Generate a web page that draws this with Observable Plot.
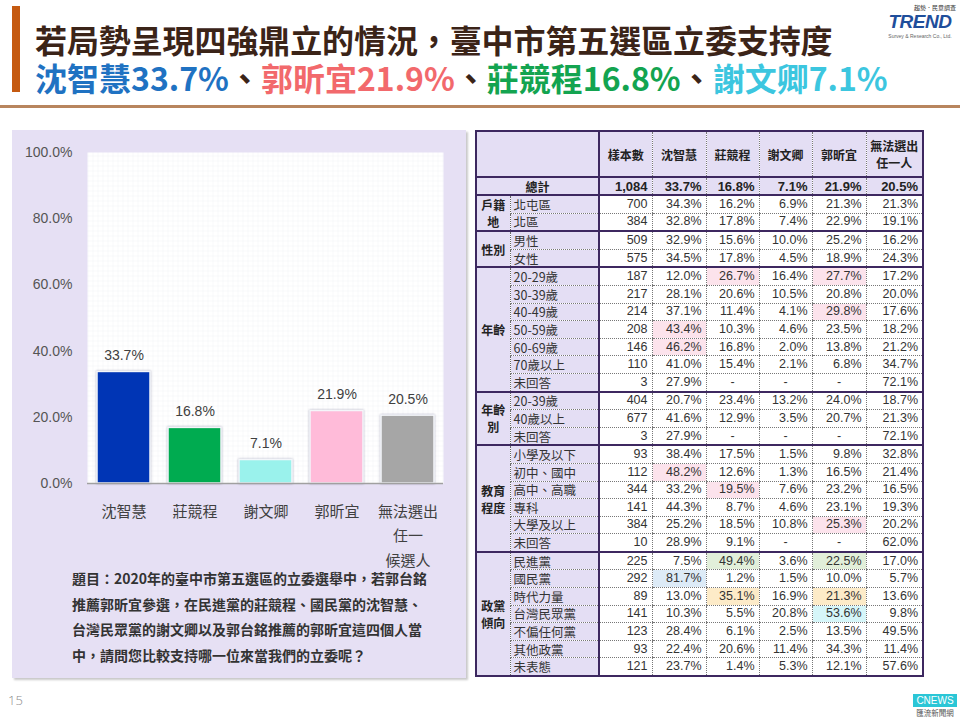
<!DOCTYPE html>
<html>
<head>
<meta charset="utf-8">
<script src="https://cdn.jsdelivr.net/npm/d3@7"></script>
<script src="https://cdn.jsdelivr.net/npm/@observablehq/plot@0.6"></script>
<style>
  html,body{margin:0;padding:0;}
  body{width:960px;height:720px;position:relative;background:#fff;overflow:hidden;
       font-family:"Noto Sans CJK TC","Noto Sans",sans-serif;}
  .abs{position:absolute;}
  #accent{left:12px;top:6px;width:8px;height:86px;background:#C55A11;}
  #title1{left:35px;top:22px;font-size:32px;font-weight:700;color:#3B2418;white-space:nowrap;line-height:34px;height:34px;letter-spacing:-0.1px;}
  #title2{left:35px;top:60px;font-size:32px;font-weight:700;white-space:nowrap;line-height:34px;height:34px;letter-spacing:0px;}
  #title1 span, #title2 span{display:inline-block;height:34px;line-height:34px;overflow:visible;vertical-align:top;}
  #rule{left:0;top:105px;width:960px;height:3px;background:#B8855E;}
  #logo1{left:912px;top:4px;width:44px;font-size:6px;color:#333;line-height:7px;text-align:right;}
  #logo2{left:884px;top:12px;width:72px;text-align:center;font-family:"Liberation Sans",Arial,sans-serif;font-style:italic;font-weight:700;font-size:19px;color:#1F4E9B;line-height:19px;letter-spacing:-0.5px;}
  #logo3{left:884px;top:33px;width:72px;text-align:center;font-family:"Liberation Sans",Arial,sans-serif;font-size:5px;color:#666;line-height:6px;}
  #panel{left:12px;top:130px;width:454px;height:548px;background:#E6E0F4;box-shadow:2px 2px 2px #c9c9c9;}
  #chart{left:12px;top:130px;}
  #question{left:72px;top:566px;font-size:14px;font-weight:700;color:#333;line-height:25.5px;white-space:nowrap;}
  #pagenum{left:8px;top:691px;font-size:13px;color:#8a8a8a;font-family:"Open Sans",sans-serif;font-weight:300;}
  #cnews{left:913px;top:694px;width:44px;height:13px;background:#2BC6D6;color:#fff;font-family:"Liberation Sans",Arial,sans-serif;font-size:10px;line-height:13px;text-align:center;}
  #cnews2{left:913px;top:708px;width:44px;font-size:7.5px;color:#555;text-align:center;line-height:9px;}
  #tbl{position:absolute;left:475px;top:130px;border-collapse:collapse;table-layout:fixed;width:447px;
       border:2px solid #3D2860;color:#333;}
  #tbl td{padding:0;overflow:hidden;white-space:nowrap;}
  #tbl tr.hdr td{height:44px;background:#E4DEF4;font-weight:700;font-size:12px;text-align:center;line-height:17px;color:#222;
       border-bottom:2px solid #3D2860;}
  #tbl tr.tot td{height:16px;line-height:15px;background:#E4DEF4;font-weight:700;font-size:13px;border-bottom:2px solid #3D2860;
       font-family:"Liberation Sans",Arial,sans-serif;color:#222;}
  #tbl tr.tot td.lab{font-family:"Noto Sans CJK TC",sans-serif;font-size:12px;text-align:center;}
  #tbl tr.body td{height:16.6px;font-size:12.5px;line-height:13px;}
  #tbl td.num{text-align:right;padding-right:4px;font-family:"Liberation Sans",Arial,sans-serif;border-left:1px dotted #777;}
  #tbl td.sample{border-left:2px solid #3D2860;}
  #tbl tr.body td.grp{background:#E4DEF4;font-weight:700;font-size:12px;text-align:center;line-height:17px;color:#222;
       border-bottom:2px solid #3D2860;white-space:normal;}
  #tbl td.sub{background:#E4DEF4;font-size:11.5px;padding-left:3px;border-left:1px dotted #666;}
  #tbl tr.body td.sub, #tbl tr.body td.num{border-bottom:1px dotted #777;}
  #tbl tr.body.last td.sub, #tbl tr.body.last td.num{border-bottom:2px solid #3D2860;}
  #tbl tr.tot td.num{text-align:right;}
</style>
</head>
<body>
<div id="accent" class="abs"></div>
<div id="title1" class="abs"></div>
<div id="title2" class="abs"></div>
<div id="rule" class="abs"></div>
<div id="logo1" class="abs">趨勢．民意調查</div>
<div id="logo2" class="abs">TREND</div>
<div id="logo3" class="abs">Survey &amp; Research Co., Ltd.</div>
<div id="panel" class="abs"></div>
<div id="chart" class="abs"></div>
<div id="question" class="abs"></div>
<div id="pagenum" class="abs">15</div>
<div id="cnews" class="abs">CNEWS</div>
<div id="cnews2" class="abs">匯流新聞網</div>
<table id="tbl"></table>

<script>
// ---------- Titles ----------
const titleLine1 = "若局勢呈現四強鼎立的情況，臺中市第五選區立委支持度";
const headlineNames = ["沈智慧", "郭昕宜", "莊競程", "謝文卿"];
const headlineShares = ["33.7%", "21.9%", "16.8%", "7.1%"];
const headlineColors = ["#1F72C2", "#F2696C", "#13A450", "#3CC6DF"];
const questionLines = [
  "題目：2020年的臺中市第五選區的立委選舉中，若郭台銘",
  "推薦郭昕宜參選，在民進黨的莊競程、國民黨的沈智慧、",
  "台灣民眾黨的謝文卿以及郭台銘推薦的郭昕宜這四個人當",
  "中，請問您比較支持哪一位來當我們的立委呢？"
];

// ---------- Bar chart data ----------
const candidates = ["沈智慧", "莊競程", "謝文卿", "郭昕宜", "無法選出任一候選人"];
const shares = [33.7, 16.8, 7.1, 21.9, 20.5];
const barColors = ["#0035B5", "#00AB50", "#9AF2EC", "#FFBBD9", "#A6A6A6"];
const axisLabels = ["沈智慧", "莊競程", "謝文卿", "郭昕宜", "無法選出\n任一\n候選人"];
const yTicks = [0, 20, 40, 60, 80, 100];

// ---------- Table data ----------
const tableColumns = ["樣本數", "沈智慧", "莊競程", "謝文卿", "郭昕宜", "無法選出\n任一人"];
const totalRow = ["1,084", "33.7%", "16.8%", "7.1%", "21.9%", "20.5%"];
const groupNames = ["戶籍\n地", "性別", "年齡", "年齡\n別", "教育\n程度", "政黨\n傾向"];
const groupRows = [
  ["北屯區", "北區"],
  ["男性", "女性"],
  ["20-29歲", "30-39歲", "40-49歲", "50-59歲", "60-69歲", "70歲以上", "未回答"],
  ["20-39歲", "40歲以上", "未回答"],
  ["小學及以下", "初中、國中", "高中、高職", "專科", "大學及以上", "未回答"],
  ["民進黨", "國民黨", "時代力量", "台灣民眾黨", "不偏任何黨", "其他政黨", "未表態"]
];
const sampleSizes = [
  [700, 384],
  [509, 575],
  [187, 217, 214, 208, 146, 110, 3],
  [404, 677, 3],
  [93, 112, 344, 141, 384, 10],
  [225, 292, 89, 141, 123, 93, 121]
];
// [沈智慧, 莊競程, 謝文卿, 郭昕宜, 無法選出任一人]; null = "-"
const groupValues = [
  [[34.3, 16.2, 6.9, 21.3, 21.3], [32.8, 17.8, 7.4, 22.9, 19.1]],
  [[32.9, 15.6, 10.0, 25.2, 16.2], [34.5, 17.8, 4.5, 18.9, 24.3]],
  [[12.0, 26.7, 16.4, 27.7, 17.2], [28.1, 20.6, 10.5, 20.8, 20.0], [37.1, 11.4, 4.1, 29.8, 17.6],
   [43.4, 10.3, 4.6, 23.5, 18.2], [46.2, 16.8, 2.0, 13.8, 21.2], [41.0, 15.4, 2.1, 6.8, 34.7],
   [27.9, null, null, null, 72.1]],
  [[20.7, 23.4, 13.2, 24.0, 18.7], [41.6, 12.9, 3.5, 20.7, 21.3], [27.9, null, null, null, 72.1]],
  [[38.4, 17.5, 1.5, 9.8, 32.8], [48.2, 12.6, 1.3, 16.5, 21.4], [33.2, 19.5, 7.6, 23.2, 16.5],
   [44.3, 8.7, 4.6, 23.1, 19.3], [25.2, 18.5, 10.8, 25.3, 20.2], [28.9, 9.1, null, null, 62.0]],
  [[7.5, 49.4, 3.6, 22.5, 17.0], [81.7, 1.2, 1.5, 10.0, 5.7], [13.0, 35.1, 16.9, 21.3, 13.6],
   [10.3, 5.5, 20.8, 53.6, 9.8], [28.4, 6.1, 2.5, 13.5, 49.5], [22.4, 20.6, 11.4, 34.3, 11.4],
   [23.7, 1.4, 5.3, 12.1, 57.6]]
];
// highlighted cells: [group index, row index, value column index, colour]
const highlights = [
  [2, 0, 1, "#FCE3EC"], [2, 0, 3, "#FCE3EC"], [2, 2, 3, "#FCE3EC"],
  [2, 3, 0, "#FCE3EC"], [2, 4, 0, "#FCE3EC"],
  [4, 1, 0, "#FCE3EC"], [4, 2, 1, "#FCE3EC"], [4, 4, 3, "#FCE3EC"],
  [5, 0, 1, "#E2EFDA"], [5, 0, 3, "#E2EFDA"],
  [5, 1, 0, "#DDEBF7"],
  [5, 2, 1, "#FDEBC8"], [5, 2, 3, "#FDEBC8"],
  [5, 3, 3, "#D6F6F9"]
];

// ---------- Build title ----------
const t1 = document.getElementById("title1");
const s1 = document.createElement("span");
s1.textContent = titleLine1;
t1.appendChild(s1);
const t2 = document.getElementById("title2");
headlineNames.forEach((n, i) => {
  const s = document.createElement("span");
  s.style.color = headlineColors[i];
  s.textContent = n + headlineShares[i];
  t2.appendChild(s);
  if (i < headlineNames.length - 1) {
    const sep = document.createElement("span");
    sep.style.color = "#3B2418";
    sep.textContent = "、";
    t2.appendChild(sep);
  }
});
document.getElementById("question").innerHTML = questionLines.join("<br>");

// ---------- Bar chart ----------
const bars = candidates.map((c, i) => ({c, v: shares[i], color: barColors[i]}));
const chart = Plot.plot({
  width: 454,
  height: 435,
  marginLeft: 75,
  marginRight: 23,
  marginTop: 22,
  marginBottom: 82,
  style: {background: "transparent", fontFamily: "'Noto Sans CJK TC', sans-serif", overflow: "visible"},
  x: {domain: candidates, paddingInner: 0.26, paddingOuter: 0.13, label: null},
  y: {domain: [0, 100], label: null},
  marks: [
    Plot.frame({fill: "url(#finegrid)", stroke: "none"}),
    Plot.barY(bars, {x: "c", y: "v", fill: "color", stroke: "#F4F6FA", strokeWidth: 1.5}),
    Plot.text(bars, {x: "c", y: "v", text: d => d.v.toFixed(1) + "%", dy: -16, fontSize: 14, fill: "#404040",
      fontFamily: "'Liberation Sans', Arial, sans-serif"}),
    Plot.ruleY([0], {stroke: "#A0A0A0", strokeWidth: 1.3}),
    Plot.axisY({ticks: yTicks, tickSize: 0, tickPadding: 15, tickFormat: d => d.toFixed(1) + "%",
      fontSize: 14, color: "#555", fontFamily: "'Liberation Sans', Arial, sans-serif"}),
    Plot.axisX({tickSize: 0, tickPadding: 16, tickFormat: d => axisLabels[candidates.indexOf(d)],
      fontSize: 15, lineHeight: 1.63, color: "#404040", lineAnchor: "top"})
  ]
});
const svg = d3.select(chart);
svg.insert("defs", ":first-child").html(
  `<pattern id="finegrid" width="5" height="5" patternUnits="userSpaceOnUse">
     <rect width="5" height="5" fill="#ffffff"/>
     <path d="M5 0 L0 0 0 5" fill="none" stroke="#E9ECF2" stroke-width="0.7"/>
   </pattern>`
);
svg.selectAll("g[aria-label='bar'] rect").style("filter", "drop-shadow(0.5px 0.5px 1px rgba(80,80,120,0.45))");
document.getElementById("chart").appendChild(chart);

// ---------- Table ----------
const tbl = document.getElementById("tbl");
const colW = [34, 89, 53, 54, 53, 53, 54, 57];
const cg = document.createElement("colgroup");
colW.forEach(w => { const c = document.createElement("col"); c.style.width = w + "px"; cg.appendChild(c); });
tbl.appendChild(cg);

const hdr = document.createElement("tr");
hdr.className = "hdr";
let td = document.createElement("td"); td.colSpan = 2; hdr.appendChild(td);
tableColumns.forEach((c, i) => {
  const h = document.createElement("td");
  h.innerHTML = c.replace("\n", "<br>");
  h.style.borderLeft = i === 0 ? "2px solid #3D2860" : "1px dotted #777";
  hdr.appendChild(h);
});
tbl.appendChild(hdr);

const tot = document.createElement("tr");
tot.className = "tot";
td = document.createElement("td"); td.colSpan = 2; td.className = "lab"; td.textContent = "總計"; tot.appendChild(td);
totalRow.forEach((v, i) => {
  const c = document.createElement("td");
  c.className = "num" + (i === 0 ? " sample" : "");
  c.textContent = v;
  tot.appendChild(c);
});
tbl.appendChild(tot);

const fmt = v => v === null ? "-" : v.toFixed(1) + "%";
groupRows.forEach((rows, g) => {
  rows.forEach((name, r) => {
    const tr = document.createElement("tr");
    tr.className = "body" + (r === rows.length - 1 ? " last" : "");
    if (r === 0) {
      const gc = document.createElement("td");
      gc.className = "grp";
      gc.rowSpan = rows.length;
      gc.innerHTML = groupNames[g].replace("\n", "<br>");
      tr.appendChild(gc);
    }
    const sc = document.createElement("td");
    sc.className = "sub";
    sc.textContent = name;
    tr.appendChild(sc);
    const nc = document.createElement("td");
    nc.className = "num sample";
    nc.textContent = sampleSizes[g][r].toLocaleString("en-US");
    tr.appendChild(nc);
    groupValues[g][r].forEach((v, k) => {
      const c = document.createElement("td");
      c.className = "num";
      c.textContent = fmt(v);
      if (v === null) { c.style.textAlign = "center"; c.style.paddingRight = "0"; }
      const hl = highlights.find(h => h[0] === g && h[1] === r && h[2] === k);
      if (hl) c.style.background = hl[3];
      tr.appendChild(c);
    });
    tbl.appendChild(tr);
  });
});
</script>
</body>
</html>
